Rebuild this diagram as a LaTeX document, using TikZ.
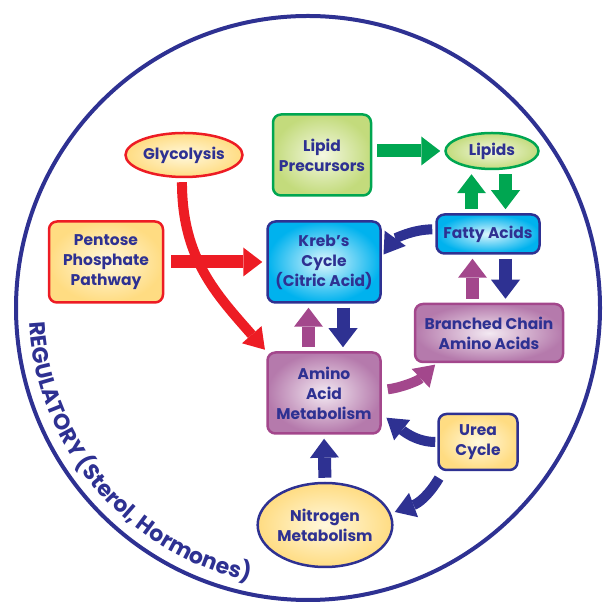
\documentclass[tikz,border=0pt]{standalone}
\usepackage{fontspec}
\setsansfont{Poppins}
\usetikzlibrary{shapes.geometric,arrows.meta,decorations.text}
\definecolor{navy}{HTML}{2E3192}
\definecolor{redline}{HTML}{ED1C24}
\definecolor{greenline}{HTML}{00A651}
\definecolor{plum}{HTML}{A3478C}
\definecolor{yellowout}{HTML}{FFDC82}
\definecolor{yellowin}{HTML}{FFF8DD}
\definecolor{greenout}{HTML}{C3DB7C}
\definecolor{greenin}{HTML}{F4F8E2}
\definecolor{cyanout}{HTML}{00B2EE}
\definecolor{cyanin}{HTML}{DDF6FD}
\definecolor{plumout}{HTML}{B57AAC}
\definecolor{plumin}{HTML}{F3E9F2}
\begin{document}
\begin{tikzpicture}[
        x=1pt, y=1pt,
        font=\sffamily\bfseries\fontsize{15.5}{20}\selectfont,
        box/.style={draw, rounded corners=8pt, line width=2.5pt, align=center, text=navy, inner sep=2pt},
        oval/.style={draw, ellipse, line width=2.5pt, align=center, text=navy, inner sep=0pt},
        yellowish/.style={inner color=yellowin, outer color=yellowout},
        greenish/.style={inner color=greenin, outer color=greenout},
        cyanish/.style={inner color=cyanin, outer color=cyanout},
        plumish/.style={inner color=plumin, outer color=plumout},
        fat/.style={line width=13pt, -{Triangle[width=29pt, length=19pt, line width=0pt]}, shorten <=4pt, shorten >=4pt},
        bent/.style={line width=10pt, -{Triangle[width=26pt, length=20pt, line width=0pt]}}
    ]
    \useasboundingbox (0,0) rectangle (603,607);
    \coordinate (ctr) at (308,299);
    \draw[navy, line width=4pt] (ctr) circle[radius=292];

    % top row
    \node[oval, draw=redline, yellowish, minimum width=117pt, minimum height=44pt] (glyc) at (184,452) {Glycolysis};
    \node[box, draw=greenline, greenish, minimum width=98pt, minimum height=81pt] (lipprec) at (322,452) {Lipid\\Precursors};
    \node[oval, draw=greenline, greenish, minimum width=93pt, minimum height=36pt] (lipids) at (492,456) {Lipids};

    % middle row
    \node[box, draw=redline, yellowish, minimum width=114pt, minimum height=81pt] (pentose) at (106,345) {Pentose\\Phosphate\\Pathway};
    \node[box, draw=navy, cyanish, minimum width=113pt, minimum height=81pt] (kreb) at (324,345) {Kreb’s\\Cycle\\(Citric Acid)};
    \node[box, draw=navy, cyanish, minimum width=103pt, minimum height=39pt] (fatty) at (488,373) {Fatty Acids};
    \node[box, draw=plum, plumish, minimum width=148pt, minimum height=58pt] (branched) at (489,274) {Branched Chain\\Amino Acids};

    % bottom row
    \node[box, draw=plum, plumish, minimum width=113pt, minimum height=81pt] (amino) at (324,214) {Amino\\Acid\\Metabolism};
    \node[box, draw=navy, yellowish, minimum width=79pt, minimum height=56pt] (urea) at (478,165) {Urea\\Cycle};
    \node[oval, draw=navy, yellowish, minimum width=118pt, minimum height=84pt] (nitro) at (325,82) {Nitrogen\\Metabolism};

    % straight arrows
    \draw[fat, greenline, shorten <=5pt] (lipprec.east |- lipids.west) -- (lipids.west);
    \coordinate (lu) at ([xshift=-16.5pt]fatty.north);
    \coordinate (ld) at ([xshift=17.5pt]lipids.south -| fatty.north);
    \draw[fat, greenline] (lu) -- (lu |- lipids.south);
    \draw[fat, greenline] (ld) -- (ld |- fatty.north);
    \draw[fat, redline, shorten <=7pt] (pentose.east) -- (kreb.west);
    \coordinate (ku) at ([xshift=-15.5pt]amino.north);
    \coordinate (kd) at ([xshift=19pt]kreb.south);
    \draw[fat, plum] (ku) -- (ku |- kreb.south);
    \draw[fat, navy] (kd) -- (kd |- amino.north);
    \coordinate (fu) at ([xshift=-16.5pt]branched.north);
    \coordinate (fd) at ([xshift=17.5pt]fatty.south);
    \draw[fat, plum] (fu) -- (fu |- fatty.south);
    \draw[fat, navy] (fd) -- (fd |- branched.north);
    \draw[fat, navy] (nitro.north) -- (amino.south);

    % curved arrows
    \draw[bent, redline, shorten <=4pt, shorten >=2pt] (glyc.-95) .. controls +(0,-80) and +(-50,57) .. (amino.north west);
    \draw[bent, navy, shorten <=3pt, shorten >=3pt] (fatty.175) .. controls +(-23,0) and +(13,18) .. (kreb.5);
    \draw[bent, plum, shorten <=6pt, shorten >=2pt] (amino.3) .. controls +(18,2) and +(-19,-18) .. (branched.-150);
    \draw[bent, navy, shorten <=2pt, shorten >=6pt] (urea.west) .. controls +(-22,0) and +(19,-15) .. (amino.-20);
    \draw[bent, navy, shorten <=8pt, shorten >=4pt] (urea.-140) .. controls +(-15,-25) and +(27,10) .. (nitro.10);

    % label on the rim
    \path[decorate, decoration={text along path, text align=left,
        text={|\sffamily\bfseries\fontsize{22}{26}\selectfont\color{navy}|REGULATORY (Sterol, Hormones)}}]
        (ctr) ++(183:279) arc[start angle=183, end angle=265, radius=279];
\end{tikzpicture}
\end{document}
